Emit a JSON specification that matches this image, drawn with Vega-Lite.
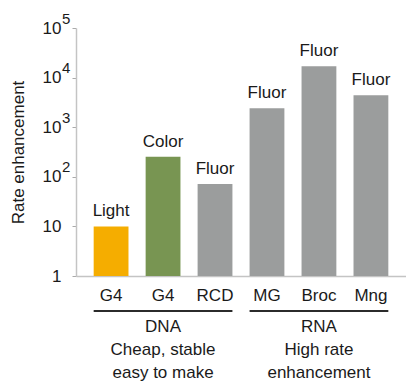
{
  "$schema": "https://vega.github.io/schema/vega-lite/v6.json",
  "padding": {"left": 9, "top": 11, "right": 0, "bottom": 0},
  "bounds": "flush",
  "spacing": 35,
  "config": {
    "font": "Liberation Sans",
    "view": {"stroke": null},
    "text": {"font": "Liberation Sans", "fontSize": 17, "color": "#1a1a1a"}
  },
  "datasets": {
    "probes": [
      {"probe": "G4-light", "readout": "Light", "enhancement": 10},
      {"probe": "G4-color", "readout": "Color", "enhancement": 255},
      {"probe": "RCD", "readout": "Fluor", "enhancement": 72},
      {"probe": "MG", "readout": "Fluor", "enhancement": 2400},
      {"probe": "Broc", "readout": "Fluor", "enhancement": 17000},
      {"probe": "Mng", "readout": "Fluor", "enhancement": 4400}
    ],
    "groups": [
      {"group": "DNA", "first": "G4-light", "mid": "G4-color", "last": "RCD", "note": "DNA\nCheap, stable\neasy to make"},
      {"group": "RNA", "first": "MG", "mid": "Broc", "last": "Mng", "note": "RNA\nHigh rate\nenhancement"}
    ]
  },
  "resolve": {"scale": {"x": "shared"}},
  "vconcat": [
    {
      "width": 330,
      "height": 248,
      "data": {"name": "probes"},
      "resolve": {"axis": {"y": "independent"}},
      "encoding": {
        "x": {
          "field": "probe",
          "type": "nominal",
          "scale": {
            "domain": ["G4-light", "G4-color", "RCD", "MG", "Broc", "Mng"],
            "paddingInner": 0.33,
            "paddingOuter": 0.34
          },
          "axis": {
            "title": null,
            "labelExpr": "split(datum.label, '-')[0]",
            "labelAngle": 0,
            "ticks": false,
            "labelPadding": 11,
            "labelFontSize": 17,
            "labelColor": "#1a1a1a",
            "domainColor": "#c4c4c4",
            "domainWidth": 1.5
          }
        }
      },
      "layer": [
        {
          "mark": {"type": "bar"},
          "encoding": {
            "y": {
              "field": "enhancement",
              "type": "quantitative",
              "scale": {"type": "log", "domain": [1, 100000]},
              "axis": {
                "values": [1, 10, 100, 1000, 10000, 100000],
                "labelExpr": "datum.value < 5 ? '1' : '10'",
                "grid": false,
                "tickSize": 4,
                "tickColor": "#aaaaaa",
                "domainColor": "#c4c4c4",
                "domainWidth": 1.5,
                "labelFontSize": 17,
                "labelColor": "#1a1a1a",
                "labelPadding": 11,
                "title": "Rate enhancement",
                "titleFontSize": 17,
                "titleFontWeight": "normal",
                "titleColor": "#1a1a1a",
                "titlePadding": 15
              }
            },
            "y2": {"datum": 1},
            "color": {
              "field": "readout",
              "type": "nominal",
              "scale": {"domain": ["Light", "Color", "Fluor"], "range": ["#f5ad00", "#789552", "#9b9d9d"]},
              "legend": null
            }
          }
        },
        {
          "mark": {"type": "text", "baseline": "alphabetic", "dy": -10},
          "encoding": {
            "y": {
              "field": "enhancement",
              "type": "quantitative",
              "scale": {"type": "log", "domain": [1, 100000]},
              "axis": {
                "orient": "left",
                "values": [100, 1000, 10000, 100000],
                "labelExpr": "format(round(log(datum.value) / LN10), 'd')",
                "grid": false,
                "ticks": false,
                "tickSize": 0,
                "domain": false,
                "labelAlign": "left",
                "labelPadding": 14.5,
                "labelOffset": -10,
                "labelFontSize": 15,
                "labelColor": "#1a1a1a",
                "title": null
              }
            },
            "text": {"field": "readout"}
          }
        }
      ]
    },
    {
      "width": 330,
      "height": 16,
      "data": {"name": "groups"},
      "layer": [
        {
          "mark": {"type": "rule", "strokeWidth": 2.2, "color": "#2b2b2b"},
          "encoding": {
            "x": {"field": "first", "type": "nominal", "bandPosition": 0, "axis": null},
            "x2": {"field": "last", "bandPosition": 1},
            "y": {"datum": "rule", "type": "ordinal", "scale": {"type": "point", "domain": ["rule", "label"], "padding": 0}, "axis": null}
          }
        },
        {
          "mark": {"type": "text", "baseline": "middle", "lineBreak": "\n", "lineHeight": 23},
          "encoding": {
            "x": {"field": "mid", "type": "nominal", "axis": null},
            "y": {"datum": "label", "type": "ordinal", "axis": null},
            "text": {"field": "note"}
          }
        }
      ]
    }
  ]
}
